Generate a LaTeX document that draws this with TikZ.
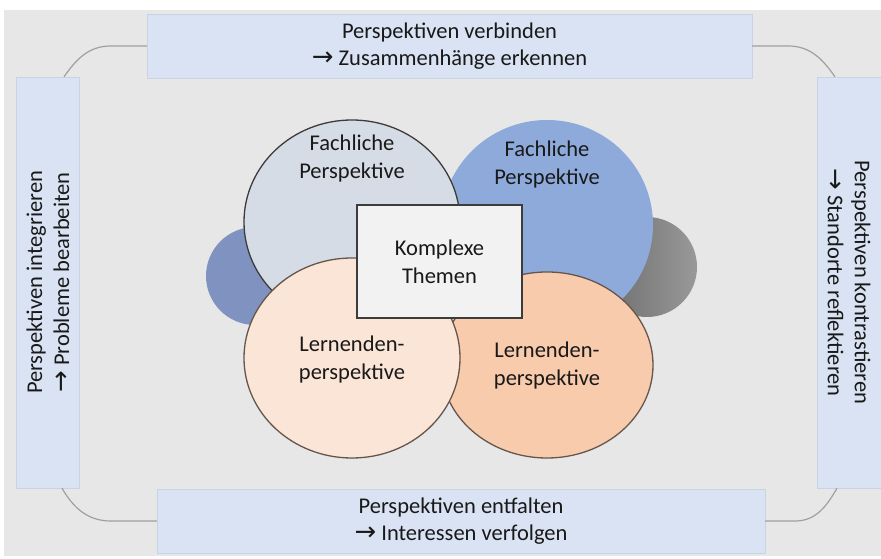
\documentclass[tikz,border=0pt]{standalone}
\usepackage{fontspec}
\setmainfont{Carlito}
\newfontfamily\arrowfont[Scale=1.15]{DejaVu Sans}
\usetikzlibrary{shapes.geometric}
\definecolor{panelgrey}{RGB}{231,231,231}
\definecolor{boxblue}{RGB}{218,227,243}
\definecolor{boxedge}{RGB}{202,211,228}
\definecolor{linkgrey}{RGB}{160,160,160}
\definecolor{fachlight}{RGB}{214,220,229}
\definecolor{fachdark}{RGB}{142,170,219}
\definecolor{lernlight}{RGB}{251,229,214}
\definecolor{lerndark}{RGB}{248,203,173}
\definecolor{slate}{RGB}{128,147,192}
\definecolor{ringedge}{RGB}{60,60,60}
\definecolor{peachedge}{RGB}{100,86,76}
\definecolor{txt}{RGB}{25,25,25}
\newcommand{\toarrow}{{\arrowfont →}\ }
\tikzset{
  framebox/.style={draw=boxedge, fill=boxblue, inner sep=0pt, align=center, text=txt, font=\fontsize{22.5}{27}\selectfont},
  bubble/.style={ellipse, inner sep=0pt},
  openring/.style={bubble, draw=ringedge, line width=1.3pt},
  peachring/.style={bubble, draw=peachedge, line width=1.3pt},
  bubbletext/.style={align=center, text=txt, font=\fontsize{22.5}{28}\selectfont},
  corebox/.style={draw=ringedge, fill=black!5, line width=1.2pt, align=center, text=txt, font=\fontsize{22.5}{28}\selectfont},
  link/.style={draw=linkgrey, line width=1.2pt}
}
\begin{document}
\begin{tikzpicture}[x=1pt, y=1pt]
  \useasboundingbox (0,0) rectangle (881,559);
  \fill[panelgrey] (4,3) rectangle (881,549);

  % four boxes round the edge
  \node[framebox, minimum width=605pt, minimum height=64pt] (verbinden) at (449.5,513)
    {Perspektiven verbinden\\\toarrow Zusammenhänge erkennen};
  \node[framebox, minimum width=608pt, minimum height=64pt] (entfalten) at (461,38)
    {Perspektiven entfalten\\\toarrow Interessen verfolgen};
  \node[framebox, rotate=90, minimum width=411pt, minimum height=63pt] (integrieren) at (48,276.5)
    {Perspektiven integrieren\\\toarrow Probleme bearbeiten};
  \node[framebox, rotate=-90, minimum width=411pt, minimum height=64pt] (kontrastieren) at (849,276.5)
    {Perspektiven kontrastieren\\\toarrow Standorte reflektieren};

  % rounded links (rotated boxes: east/west are the ends)
  \draw[link] (verbinden.west) -- ++(-36pt,0) to[out=180, in=55] ([xshift=16pt]integrieren.east);
  \draw[link] (verbinden.east) -- ++(36pt,0) to[out=0, in=125] ([xshift=-14pt]kontrastieren.west);
  \draw[link] (entfalten.west) -- ++(-46pt,0) to[out=180, in=-60] ([xshift=14pt]integrieren.west);
  \draw[link] (entfalten.east) -- ++(30pt,0) to[out=0, in=-120] ([xshift=-12pt]kontrastieren.east);

  % perspective bubbles, back to front
  \node[bubble, fill=slate, minimum width=98pt, minimum height=98pt] (backL) at (255,283) {};
  \node[bubble, left color=black!58, right color=black!40, minimum width=100pt, minimum height=100pt] (backR) at (647,292) {};
  \node[bubble, fill=fachdark, minimum width=212pt, minimum height=210pt] (fachR) at (547,334) {};
  \node[openring, fill=fachlight, minimum width=216pt, minimum height=204pt] (fachL) at (352,337) {};
  \node[peachring, fill=lerndark, minimum width=212pt, minimum height=186pt] (lernR) at (547,194) {};
  \node[peachring, fill=lernlight, minimum width=216pt, minimum height=200pt] (lernL) at (352,201) {};

  \node[bubbletext] (fachLtext) at ([yshift=63pt]fachL.center) {Fachliche\\Perspektive};
  \node[bubbletext] (fachRtext) at ([yshift=60pt]fachR.center) {Fachliche\\Perspektive};
  \node[bubbletext] (lernLtext) at ([yshift=-2pt]lernL.center) {Lernenden-\\perspektive};
  \node[bubbletext] (lernRtext) at ([yshift=-1pt]lernR.center) {Lernenden-\\perspektive};

  % topic in the middle
  \node[corebox, minimum width=165pt, minimum height=113pt] (themen) at (439.5,297.5) {Komplexe\\Themen};
\end{tikzpicture}
\end{document}
